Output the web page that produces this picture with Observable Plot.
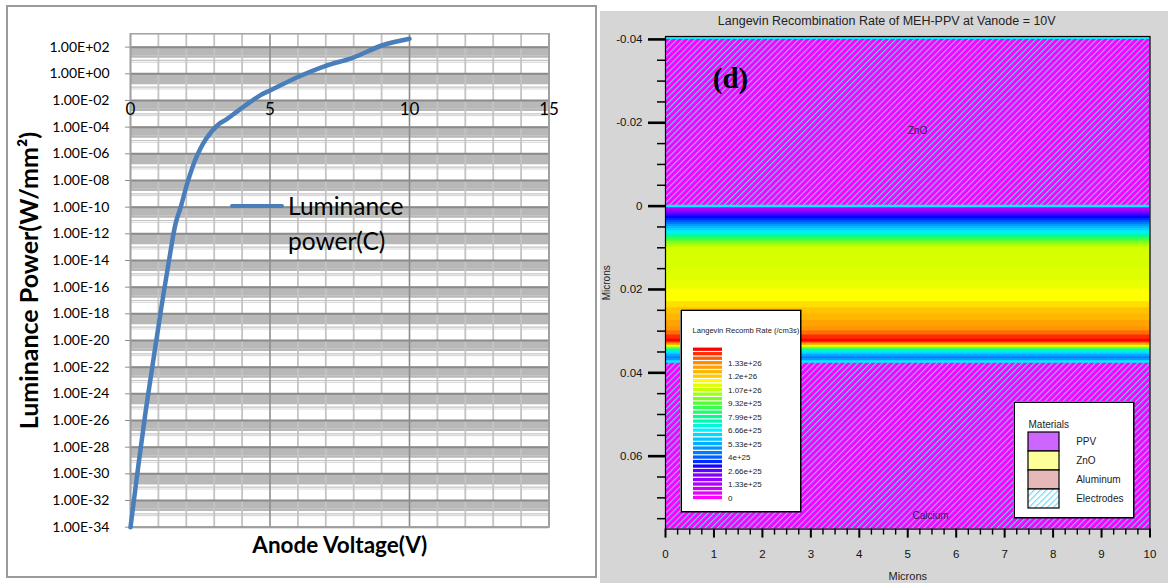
<!DOCTYPE html>
<html><head><meta charset="utf-8">
<script src="https://cdn.jsdelivr.net/npm/d3@7"></script>
<script src="https://cdn.jsdelivr.net/npm/@observablehq/plot@0.6"></script>
<style>
body{margin:0;background:#fff;}
#root{position:relative;width:1168px;height:583px;overflow:hidden;background:#fff;}
</style></head><body><div id="root"></div>
<script>
// ===== Left panel: luminance power vs anode voltage =====
const voltage = [0, 0.28, 0.55, 0.83, 1.10, 1.38, 1.62, 1.80, 2.05, 2.35, 2.70, 3.15, 3.45, 3.90, 4.66, 5.00, 6.04, 7.00, 7.96, 9.06, 10.0];
const lumExp  = [-34, -29.4, -25.2, -21.3, -17.6, -14.0, -11.2, -10.0, -8.1, -6.3, -4.9, -3.8, -3.4, -2.7, -1.6, -1.25, -0.2, 0.6, 1.2, 2.16, 2.63];
const lumTickExp = [-34,-32,-30,-28,-26,-24,-22,-20,-18,-16,-14,-12,-10,-8,-6,-4,-2,0,2];
const vMajor = [0, 5, 10, 15];
const vMinor = [1,2,3,4,6,7,8,9,11,12,13,14];
const xAxisCross = 1e-2;
const seriesName = ["Luminance", "power(C)"];

// ===== Right panel: Langevin recombination rate =====
const depth = [0,0.0005,0.0010,0.0015,0.0020,0.0025,0.0030,0.0035,0.0040,0.0045,0.0050,0.0055,0.0060,0.0065,0.0070,0.0075,0.0080,0.0085,0.0090,0.0095,0.0100,0.0150,0.0180,0.0200,0.0230,0.0245,0.0260,0.0275,0.0290,0.0300,0.0310,0.0320,0.0327,0.0331,0.0335,0.0339,0.0343,0.0347,0.0351,0.0356,0.0362,0.0367];
const rate  = [0.6e25,1.2e25,1.9e25,2.5e25,2.9e25,3.2e25,3.5e25,3.9e25,4.4e25,5.0e25,5.6e25,6.1e25,6.6e25,7.2e25,7.9e25,8.6e25,9.3e25,9.9e25,1.03e26,1.06e26,1.09e26,1.10e26,1.12e26,1.15e26,1.18e26,1.21e26,1.24e26,1.28e26,1.31e26,1.36e26,1.42e26,1.46e26,1.36e26,1.25e26,1.13e26,1.0e26,8.5e25,7.2e25,6.2e25,5.2e25,4.5e25,5.0e25];
const layerName   = ["ZnO", "PPV", "Calcium"];
const layerTop    = [-0.0407, 0, 0.0373];
const layerBottom = [0, 0.0373, 0.0775];
const interfaces  = [-0.0404, 0, 0.0373];
const regionLabel = ["ZnO", "Calcium"];
const regionLabelX = [5.2, 5.47];
const regionLabelY = [-0.0181, 0.0743];
const yMajorR = [-0.04,-0.02,0,0.02,0.04,0.06];
const yMinorR = [-0.035,-0.03,-0.025,-0.015,-0.01,-0.005,0.005,0.01,0.015,0.025,0.03,0.035,0.045,0.05,0.055,0.065,0.07,0.075];
const xMajorR = [0,1,2,3,4,5,6,7,8,9,10];
const xMinorR = [0.25,0.5,0.75,1.25,1.5,1.75,2.25,2.5,2.75,3.25,3.5,3.75,4.25,4.5,4.75,5.25,5.5,5.75,6.25,6.5,6.75,7.25,7.5,7.75,8.25,8.5,8.75,9.25,9.5,9.75];
const legendLevels = [0,0.443e25,0.887e25,1.33e25,1.77e25,2.22e25,2.66e25,3.10e25,3.55e25,3.99e25,4.43e25,4.88e25,5.32e25,5.76e25,6.21e25,6.65e25,7.09e25,7.54e25,7.98e25,8.42e25,8.87e25,9.31e25,9.75e25,10.2e25,10.64e25,11.08e25,11.53e25,11.97e25,12.41e25,12.86e25,13.3e25,13.74e25,14.19e25,14.63e25];
const legendValues = [0,1.33e25,2.66e25,3.99e25,5.32e25,6.65e25,7.98e25,9.31e25,1.064e26,1.197e26,1.33e26];
const legendLabels = ["0","1.33e+25","2.66e+25","4e+25","5.33e+25","6.66e+25","7.99e+25","9.32e+25","1.07e+26","1.2e+26","1.33e+26"];
const materials = ["PPV","ZnO","Aluminum","Electrodes"];
const materialFill = ["#cc66ff","#ffff99","#e6b9b8","url(#hatch2)"];
// colour map anchors (TonyPlot-like rainbow)
const colorStops = [0,1.33e25,2.66e25,3.2e25,4e25,5.33e25,6.66e25,7.99e25,9.32e25,1.07e26,1.15e26,1.2e26,1.33e26,1.46e26];
const colorHex   = ["#ff00ff","#b000ff","#6800ff","#0000ff","#0060ff","#00b0ff","#00f0ff","#00ff90","#50ff30","#c8ff00","#ffff00","#ffc800","#ff8c00","#ff0000"];
const colorOpts = {type:"linear", domain: colorStops, range: colorHex, interpolate:"rgb"};

const root = document.getElementById("root");
function place(el, left, top){ el.style.position="absolute"; el.style.left=left+"px"; el.style.top=top+"px"; root.appendChild(el); return el; }
function div(left, top, w, h, css){ const d=document.createElement("div"); d.style.cssText=css; d.style.width=w+"px"; d.style.height=h+"px"; return place(d,left,top); }

// ---------- left panel ----------
div(6, 5, 591, 573, "box-sizing:border-box;border:2px solid #9b9b9b;background:#fff;");
const expFmt = v => { const e = Math.round(Math.log10(v)); return "1.00E" + (e < 0 ? "-" : "+") + String(Math.abs(e)).padStart(2,"0"); };
const lumTicks = lumTickExp.map(e => 10 ** e);
const upperExp = lumTickExp.filter(e => e > -34);
const lumBand = upperExp.flatMap(e => [2,3,4,5,6,7,8,9].map(j => j * 10 ** (e - 1)));
const lumDecade = upperExp.map(e => 10 ** (e - 1));
const curve = voltage.map((v, i) => ({v, lum: 10 ** lumExp[i]}));

const leftPlot = Plot.plot({
  width: 600, height: 583,
  marginLeft: 130, marginRight: 51.5, marginTop: 33.3, marginBottom: 56.3,
  style: {background:"transparent", fontFamily:"Lato, 'Open Sans', sans-serif", color:"#000", overflow:"visible"},
  x: {domain:[0,15], axis:null},
  y: {type:"log", domain:[1e-34, 1e3], axis:null},
  marks: [
    Plot.ruleY(lumBand, {stroke:"#b8b8b8", strokeWidth:2.4}),
    Plot.ruleY(lumDecade, {stroke:"#c4c4c4", strokeWidth:1.2}),
    Plot.ruleY(lumDecade, {stroke:"#d4d4d4", strokeWidth:1, dy:1.8}),
    Plot.ruleX(vMinor, {stroke:"#c4c4c4", strokeWidth:1.8}),
    Plot.ruleX(vMajor, {stroke:"#8e8e8e", strokeWidth:1.6}),
    Plot.ruleY(lumTicks, {stroke:"#8a8a8a", strokeWidth:2}),
    Plot.frame({stroke:"#a0a0a0", strokeWidth:1.5}),
    Plot.axisY({ticks: lumTicks, tickFormat: expFmt, tickSize:5, tickPadding:16, fontSize:14, stroke:"#8e8e8e", label:null}),
    Plot.text(vMajor, {x: d => d, y: () => xAxisCross, text: d => String(d), lineAnchor:"top", dy:2, fontSize:17}),
    Plot.line(curve, {x:"v", y:"lum", stroke:"#4a7ebb", strokeWidth:4.5, curve:"catmull-rom", strokeLinecap:"round"}),
    Plot.text(["Luminance Power(W/mm²)"], {frameAnchor:"left", rotate:-90, dx:-101, textAnchor:"middle", lineAnchor:"middle", fontWeight:"bold", fontSize:25}),
    Plot.text(["Anode Voltage(V)"], {frameAnchor:"bottom", dy:19, textAnchor:"middle", lineAnchor:"middle", fontWeight:"bold", fontSize:22.5})
  ]
});
place(leftPlot, 0, 0);
// legend of the left chart
div(230, 203.5, 54, 4.5, "background:#4a7ebb;border-radius:2px;");
const lg = div(288, 188, 170, 70, "font-family:Lato,'Open Sans',sans-serif;font-size:24.5px;line-height:35px;color:#000;");
lg.innerHTML = seriesName.join("<br>");

// ---------- right panel ----------
div(600, 11, 568, 572, "background:#d6d6d6;");
const bands = depth.map((d, i) => ({y1: d, y2: i + 1 < depth.length ? depth[i + 1] : layerBottom[1], r: rate[i]}));
const layers = layerName.map((n, i) => ({n, y1: layerTop[i], y2: layerBottom[i]}));
const electrodes = layers.filter(l => l.n !== "PPV");

const rightPlot = Plot.plot({
  width: 568, height: 583,
  marginLeft: 65, marginRight: 18.5, marginTop: 36, marginBottom: 54.4,
  style: {background:"transparent", fontFamily:"'Liberation Sans', Arial, sans-serif", color:"#111", overflow:"visible"},
  x: {domain:[0,10], axis:null},
  y: {domain:[-0.0407, 0.0775], reverse:true, axis:null},
  color: colorOpts,
  marks: [
    Plot.rect(electrodes, {x1: () => 0, x2: () => 10, y1:"y1", y2:"y2", fill: () => 0}),
    Plot.rect(electrodes, {x1: () => 0, x2: () => 10, y1:"y1", y2:"y2", fill:"url(#hatch)"}),
    Plot.rect(bands, {x1: () => 0, x2: () => 10, y1:"y1", y2:"y2", fill:"r", insetTop:-0.3, insetBottom:-0.3}),
    Plot.ruleY(interfaces, {stroke:"#00f0ff", strokeWidth:2.5}),
    Plot.frame({stroke:"#000", strokeWidth:1.2}),
    Plot.axisY({ticks: yMajorR, tickSize:17, strokeWidth:2.6, stroke:"#000", tickPadding:6, tickFormat: d => String(d), fontSize:11.5, label:null}),
    Plot.axisY({ticks: yMinorR, tickSize:8, strokeWidth:1.5, stroke:"#000", text:null, label:null}),
    Plot.axisX({ticks: xMajorR, tickSize:9, strokeWidth:2, stroke:"#000", tickPadding:12, tickFormat: d => String(d), fontSize:11.5, label:null}),
    Plot.axisX({ticks: xMinorR, tickSize:6, strokeWidth:1.4, stroke:"#000", text:null, label:null}),
    Plot.text(regionLabel, {x: (d, i) => regionLabelX[i], y: (d, i) => regionLabelY[i], text: d => d, fontSize:10, fill:"#302040"}),
    Plot.text(["(d)"], {frameAnchor:"top-left", dx:65, dy:42, textAnchor:"middle", lineAnchor:"middle", fontFamily:"'Liberation Serif', 'DejaVu Serif', serif", fontWeight:"bold", fontSize:29, fill:"#000"}),
    Plot.text(["Langevin Recombination Rate of MEH-PPV at Vanode = 10V"], {frameAnchor:"top", dx:-21, dy:-16, textAnchor:"middle", lineAnchor:"middle", fontSize:12.5, fill:"#222"}),
    Plot.text(["Microns"], {frameAnchor:"left", rotate:-90, dx:-59, textAnchor:"middle", lineAnchor:"middle", fontSize:10, fill:"#222"}),
    Plot.text(["Microns"], {frameAnchor:"bottom", dy:47.4, textAnchor:"middle", lineAnchor:"middle", fontSize:11, fill:"#222"})
  ]
});
const ns = "http://www.w3.org/2000/svg";
const defs1 = document.createElementNS(ns, "defs");
defs1.innerHTML = '<pattern id="hatch" patternUnits="userSpaceOnUse" width="4.3" height="4.3" patternTransform="rotate(45)"><line x1="0.6" y1="0" x2="0.6" y2="4.3" stroke="#5fd8ff" stroke-width="1.1"/></pattern>';
rightPlot.prepend(defs1);
place(rightPlot, 600, 0);

// recombination-rate legend
const legend1 = Plot.plot({
  width: 121, height: 203, margin: 0,
  style: {background:"#fff", fontFamily:"'Liberation Sans', Arial, sans-serif", color:"#222", overflow:"visible"},
  x: {domain:[0,1], range:[13,42], axis:null},
  y: {domain:[0, 1.33e26], range:[188.5, 53.7], axis:null},
  color: colorOpts,
  marks: [
    Plot.rect(legendLevels, {x1: () => 0, x2: () => 1, y1: d => d - 0.2217e25, y2: d => d + 0.2217e25, fill: d => d, insetTop:0.6, insetBottom:0.6}),
    Plot.text(legendValues, {x: () => 1, y: d => d, text: (d, i) => legendLabels[i], textAnchor:"start", dx:5.5, fontSize:8}),
    Plot.text(["Langevin Recomb Rate (/cm3s)"], {frameAnchor:"top-left", dx:12, dy:21, textAnchor:"start", lineAnchor:"middle", fontSize:7.6}),
    Plot.frame({stroke:"#000", strokeWidth:1.5, inset:0.75})
  ]
});
place(legend1, 680, 309);

// materials legend
const legend2 = Plot.plot({
  width: 121, height: 117, margin: 0,
  style: {background:"#fff", fontFamily:"'Liberation Sans', Arial, sans-serif", color:"#222", overflow:"visible"},
  x: {domain:[0,1], range:[15,46], axis:null},
  y: {domain: materials, range:[30,108], padding:0, axis:null},
  color: {type:"identity"},
  marks: [
    Plot.barX(materials, {x1: () => 0, x2: () => 1, y: d => d, fill: (d, i) => materialFill[i], stroke:"#000", strokeWidth:1.2}),
    Plot.text(materials, {x: () => 1, y: d => d, text: d => d, textAnchor:"start", dx:16.7, fontSize:10}),
    Plot.text(["Materials"], {frameAnchor:"top-left", dx:15, dy:23, textAnchor:"start", lineAnchor:"middle", fontSize:10}),
    Plot.frame({stroke:"#000", strokeWidth:1.5, inset:0.75})
  ]
});
const defs2 = document.createElementNS(ns, "defs");
defs2.innerHTML = '<pattern id="hatch2" patternUnits="userSpaceOnUse" width="4.3" height="4.3" patternTransform="rotate(45)"><rect width="4.3" height="4.3" fill="#fff"/><line x1="0.6" y1="0" x2="0.6" y2="4.3" stroke="#5fd8ff" stroke-width="1.1"/></pattern>';
legend2.prepend(defs2);
place(legend2, 1013, 401);
</script></body></html>
